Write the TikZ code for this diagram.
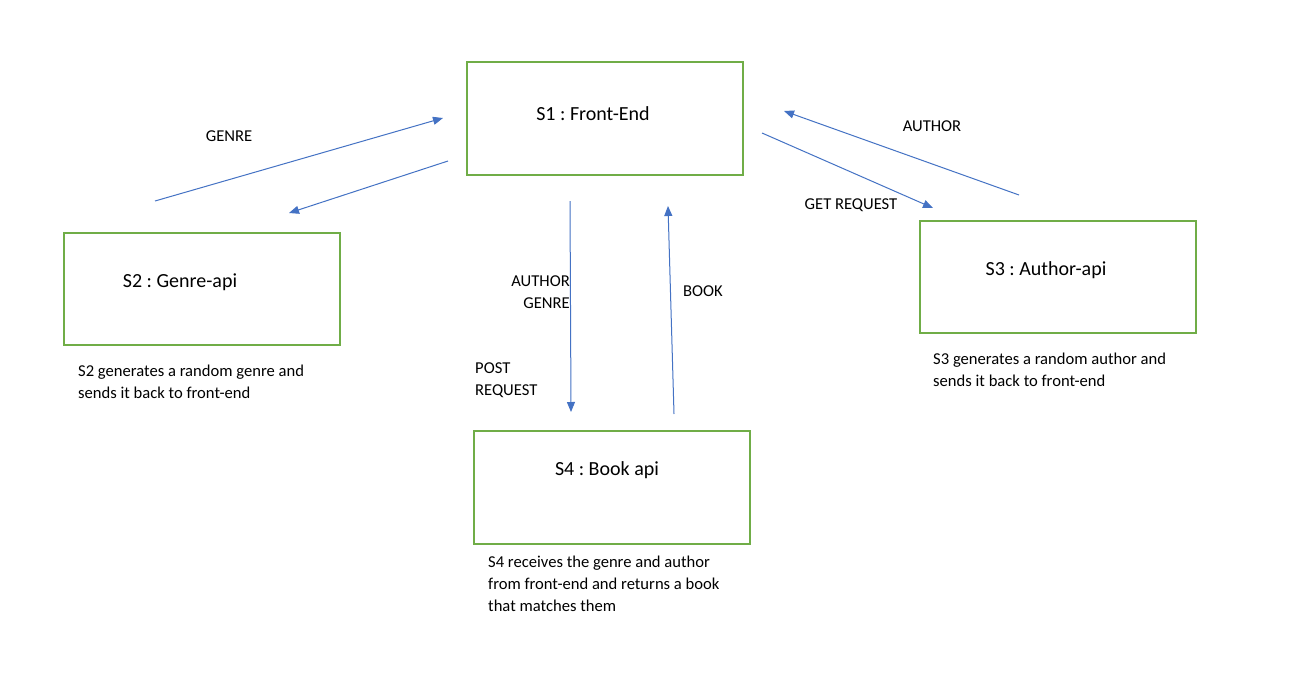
\documentclass[tikz,border=0pt]{standalone}
\usepackage{fontspec}
\setmainfont{Carlito}
\usetikzlibrary{arrows.meta}
\definecolor{boxgreen}{HTML}{70AD47}
\definecolor{arrowblue}{HTML}{4472C4}
\frenchspacing
\tikzset{
  service/.style={draw=boxgreen, line width=2pt},
  flow/.style={draw=arrowblue, line width=1pt, -{Triangle[length=10pt,width=8pt]}},
  title/.style={inner sep=0pt, font=\fontsize{20}{24}\selectfont},
  note/.style={inner sep=0pt, align=left, font=\fontsize{16.6}{21.8}\selectfont}
}
\begin{document}
\begin{tikzpicture}[x=1pt,y=-1pt]
\useasboundingbox[fill=white] (0,0) rectangle (1295,696);
% service boxes
\draw[service] (467,62) rectangle (743,175);
\draw[service] (64,233) rectangle (340,345);
\draw[service] (920,221) rectangle (1196,333);
\draw[service] (474,431) rectangle (750,544);
\node[title] (S1) at (593,114) {S1 : Front-End};
\node[title] (S2) at (180,282) {S2 : Genre-api};
\node[title] (S3) at (1046,270) {S3 : Author-api};
\node[title] (S4) at (607,470) {S4 : Book api};
% arrow ends
\coordinate (genreFrom) at (155,201);
\coordinate (genreTo) at (443,118);
\coordinate (reqFrom) at (448,161);
\coordinate (reqTo) at (289,213);
\coordinate (postFrom) at (570,201);
\coordinate (postTo) at (571,412);
\coordinate (bookFrom) at (674,414);
\coordinate (bookTo) at (668,206);
\coordinate (getFrom) at (762,133);
\coordinate (getTo) at (933,208);
\coordinate (authFrom) at (1019,195);
\coordinate (authTo) at (784,111);
\draw[flow] (genreFrom) -- (genreTo);
\draw[flow] (reqFrom) -- (reqTo);
\draw[flow] (postFrom) -- (postTo);
\draw[flow] (bookFrom) -- (bookTo);
\draw[flow] (getFrom) -- (getTo);
\draw[flow] (authFrom) -- (authTo);
% labels
\node[note] (lgenre) at (229,136) {GENRE};
\node[note] (lauthor) at (932,126) {AUTHOR};
\node[note] (lget) at (851,205) {GET REQUEST};
\node[note, align=right, anchor=east] (lpost) at (570,292) {AUTHOR\\GENRE};
\node[note, anchor=west] (lpostreq) at (475,380) {POST\\REQUEST};
\node[note] (lbook) at (703,291) {BOOK};
% descriptions
\node[note, anchor=west] (d2) at (78,382) {S2 generates a random genre and\\sends it back to front-end};
\node[note, anchor=west] (d3) at (933,370) {S3 generates a random author and\\sends it back to front-end};
\node[note, anchor=west] (d4) at (488,584) {S4 receives the genre and author\\from front-end and returns a book\\that matches them};
\end{tikzpicture}
\end{document}
